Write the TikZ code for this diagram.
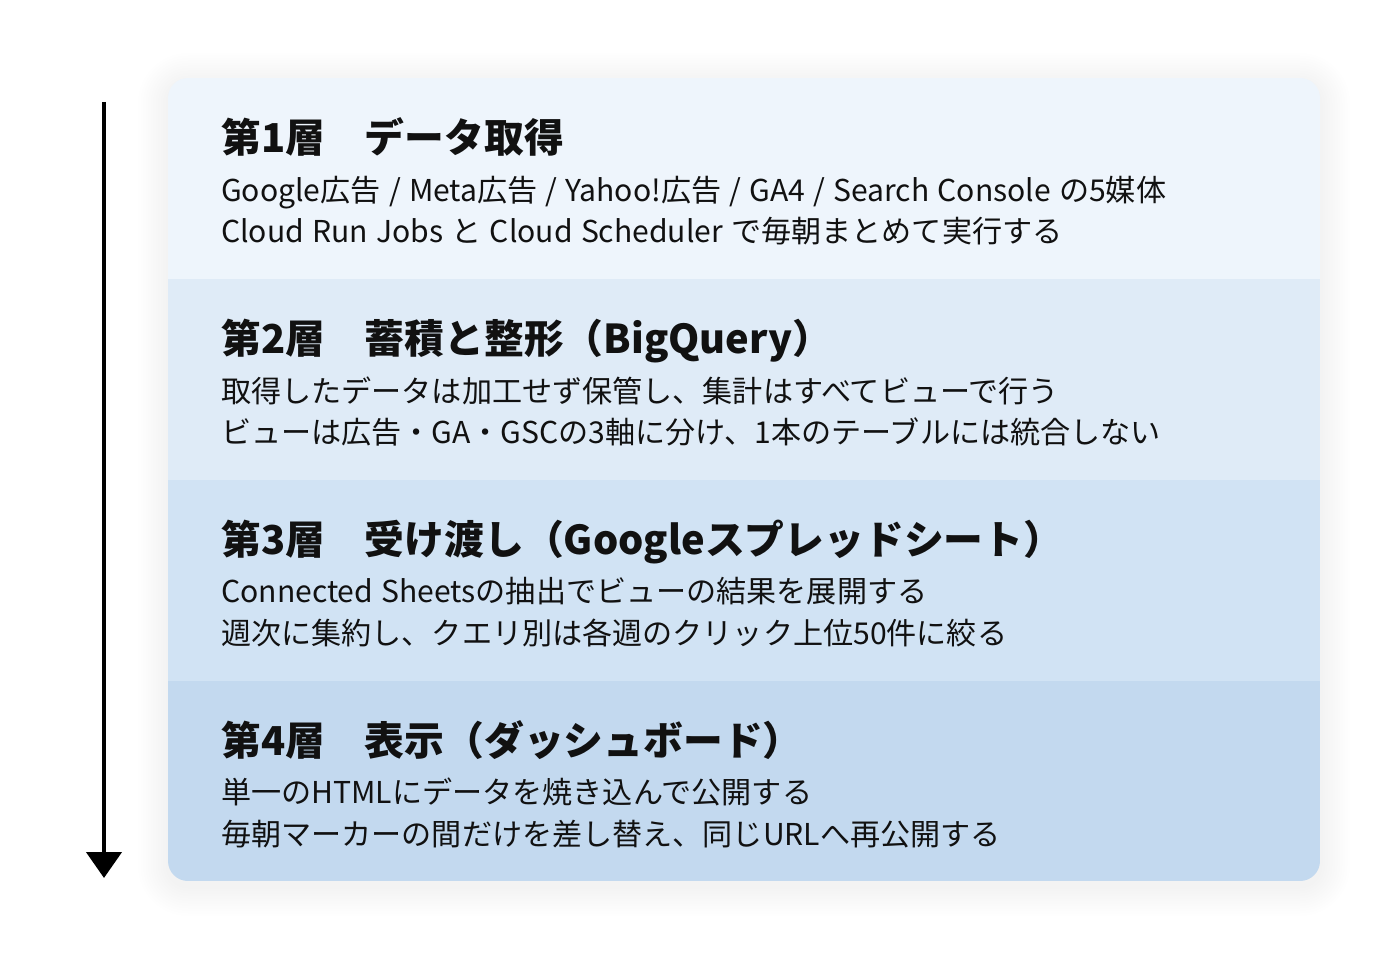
\documentclass[tikz,border=0pt]{standalone}
\usepackage{fontspec}
\setmainfont{Noto Sans CJK JP}[WordSpace=1.22]
\usetikzlibrary{arrows.meta}
\definecolor{bandA}{HTML}{EEF5FC}
\definecolor{bandB}{HTML}{DFEBF7}
\definecolor{bandC}{HTML}{D1E3F4}
\definecolor{bandD}{HTML}{C3D9EF}
\definecolor{shadowc}{HTML}{6080A0}
\definecolor{inkc}{HTML}{111111}
\tikzset{
  ttl/.style={anchor=base west, inner sep=0pt, font=\fontsize{39.8}{46}\selectfont\bfseries, text=inkc},
  bodytxt/.style={anchor=base west, inner sep=0pt, font=\fontsize{30.1}{36}\selectfont, text=inkc},
  flowarrow/.style={line width=4.5pt, -{Triangle[width=35pt,length=26pt]}, draw=black},
}
\begin{document}
\begin{tikzpicture}[x=1pt,y=-1pt]
\useasboundingbox (0,0) rectangle (1400,960);
\fill[white] (0,0) rectangle (1400,960);
% soft shadow
\foreach \i in {1,...,12} {
  \fill[shadowc, opacity=0.004, rounded corners={20+\i*2.5}]
    (168-\i*2.5, 78-\i*2.5+5) rectangle (1320+\i*2.5, 881+\i*2.5+5);
}
% bands
\begin{scope}
\clip[rounded corners=20] (168,78) rectangle (1320,881);
\fill[bandA] (168,78) rectangle (1320,279);
\fill[bandB] (168,279) rectangle (1320,480);
\fill[bandC] (168,480) rectangle (1320,681);
\fill[bandD] (168,681) rectangle (1320,881);
\end{scope}
% texts
\node[ttl] (t1) at (221,153) {第1層　データ取得};
\node[bodytxt] (b1a) at (221,201.5) {Google広告 / Meta広告 / Yahoo!広告 / GA4 / Search Console の5媒体};
\node[bodytxt] (b1b) at (221,243) {Cloud Run Jobs と Cloud Scheduler で毎朝まとめて実行する};
\node[ttl] (t2) at (221,353.7) {第2層　蓄積と整形（BigQuery）};
\node[bodytxt] (b2a) at (221,402.2) {取得したデータは加工せず保管し、集計はすべてビューで行う};
\node[bodytxt] (b2b) at (221,443.7) {ビューは広告・GA・GSCの3軸に分け、1本のテーブルには統合しない};
\node[ttl] (t3) at (221,554.4) {第3層　受け渡し（Googleスプレッドシート）};
\node[bodytxt] (b3a) at (221,602.9) {Connected Sheetsの抽出でビューの結果を展開する};
\node[bodytxt] (b3b) at (221,644.4) {週次に集約し、クエリ別は各週のクリック上位50件に絞る};
\node[ttl] (t4) at (221,755.1) {第4層　表示（ダッシュボード）};
\node[bodytxt] (b4a) at (221,803.6) {単一のHTMLにデータを焼き込んで公開する};
\node[bodytxt] (b4b) at (221,845.1) {毎朝マーカーの間だけを差し替え、同じURLへ再公開する};
% arrow
\coordinate (arrtop) at (104,102);
\coordinate (arrtip) at (104,878);
\draw[flowarrow] (arrtop) -- (arrtip);
\end{tikzpicture}
\end{document}
